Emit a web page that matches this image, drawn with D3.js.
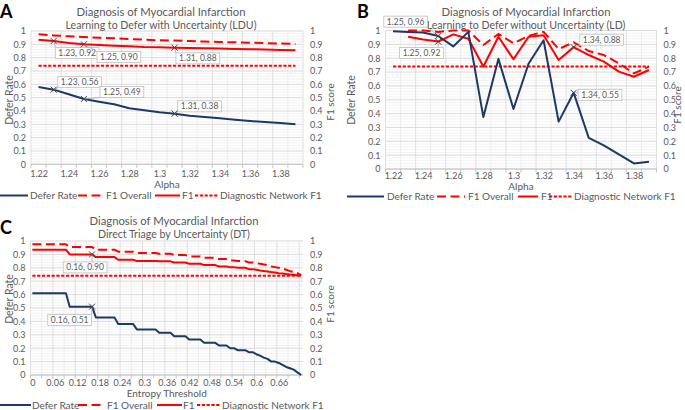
<!DOCTYPE html>
<html><head><meta charset="utf-8">
<script src="https://cdn.jsdelivr.net/npm/d3@7"></script>
<style>
body{margin:0;background:#fff}
svg{display:block}
text{font-family:Lato,"Liberation Sans",sans-serif}
</style>
</head><body>
<svg id="chart" width="685" height="410"></svg>
<script>
// ---------------- DATA ----------------
const alphaCategories = [1.22,1.23,1.24,1.25,1.26,1.27,1.28,1.29,1.30,1.31,1.32,1.33,1.34,1.35,1.36,1.37,1.38,1.39];
const alphaTickLabels = ["1.22","1.24","1.26","1.28","1.3","1.32","1.34","1.36","1.38"];

const lduDeferRate = [0.58,0.56,0.525,0.49,0.47,0.45,0.42,0.405,0.39,0.38,0.365,0.355,0.345,0.335,0.325,0.317,0.31,0.30];
const lduF1Overall = [0.975,0.967,0.96,0.955,0.95,0.945,0.94,0.935,0.93,0.928,0.925,0.921,0.918,0.915,0.912,0.909,0.906,0.903];
const lduF1        = [0.935,0.925,0.91,0.90,0.895,0.89,0.885,0.88,0.878,0.875,0.872,0.87,0.868,0.865,0.863,0.861,0.858,0.856];

const ldDeferRate  = [0.995,0.99,0.985,0.96,0.885,0.99,0.375,0.795,0.433,0.76,0.93,0.342,0.55,0.225,0.17,0.105,0.04,0.053];
const ldF1Overall  = [null,1.0,1.0,0.99,1.0,1.0,0.895,0.975,0.908,0.962,0.99,0.866,0.915,0.852,0.823,0.763,0.69,0.739];
const ldF1         = [null,0.955,0.935,0.92,0.972,0.94,0.74,0.955,0.792,0.955,0.965,0.787,0.88,0.823,0.775,0.703,0.666,0.715];

const diagnosticNetworkF1 = 0.74;

const entropyCategories = [0,0.01,0.02,0.03,0.04,0.05,0.06,0.07,0.08,0.09,0.10,0.11,0.12,0.13,0.14,0.15,0.16,0.17,0.18,0.19,
  0.20,0.21,0.22,0.23,0.24,0.25,0.26,0.27,0.28,0.29,0.30,0.31,0.32,0.33,0.34,0.35,0.36,0.37,0.38,0.39,
  0.40,0.41,0.42,0.43,0.44,0.45,0.46,0.47,0.48,0.49,0.50,0.51,0.52,0.53,0.54,0.55,0.56,0.57,0.58,0.59,
  0.60,0.61,0.62,0.63,0.64,0.65,0.66,0.67,0.68,0.69,0.70,0.71,0.72];
const entropyTickLabels = ["0","0.06","0.12","0.18","0.24","0.3","0.36","0.42","0.48","0.54","0.6","0.66"];

const dtDeferRate = [0.61,0.61,0.61,0.61,0.61,0.61,0.61,0.61,0.61,0.61,
  0.51,0.51,0.51,0.51,0.51,0.51,0.51,
  0.43,0.43,0.43,0.43,0.43,0.43,
  0.38,0.38,0.38,0.38,0.38,
  0.34,0.34,0.34,0.34,0.34,0.34,
  0.315,0.315,0.315,0.315,
  0.29,0.29,0.29,0.29,
  0.265,0.265,0.265,0.265,
  0.24,0.24,0.24,0.24,
  0.22,0.22,0.22,
  0.20,0.20,
  0.185,0.185,0.185,
  0.17,0.17,
  0.155,0.145,0.13,0.12,0.10,0.10,0.09,0.075,0.06,0.05,0.04,0.02,0.0];
const dtF1Overall = [0.975,0.975,0.975,0.975,0.975,0.975,0.975,0.975,0.975,0.975,
  0.955,0.955,0.955,0.955,0.955,0.955,0.955,
  0.935,0.935,0.935,0.935,0.935,0.935,
  0.92,0.92,0.92,0.92,0.92,
  0.91,0.91,0.91,0.91,0.91,0.91,
  0.905,0.905,0.905,0.905,
  0.895,0.895,0.895,0.895,
  0.885,0.885,0.885,0.885,
  0.875,0.875,0.875,0.875,
  0.865,0.865,0.865,
  0.855,0.855,
  0.85,0.85,0.85,
  0.84,0.84,
  0.835,0.83,0.825,0.82,0.81,0.805,0.80,0.795,0.785,0.775,0.77,0.76,0.745];
const dtF1 = [0.935,0.935,0.935,0.935,0.935,0.935,0.935,0.935,0.935,0.935,
  0.90,0.90,0.90,0.90,0.90,0.90,0.90,
  0.88,0.88,0.88,0.88,0.88,0.88,
  0.86,0.86,0.86,0.86,0.86,
  0.85,0.85,0.85,0.85,0.85,0.85,
  0.848,0.848,0.848,0.848,
  0.84,0.84,0.84,0.84,
  0.83,0.83,0.83,0.83,
  0.82,0.82,0.82,0.82,
  0.81,0.81,0.81,
  0.805,0.805,
  0.80,0.80,0.80,
  0.79,0.79,
  0.785,0.78,0.776,0.772,0.768,0.765,0.76,0.757,0.753,0.75,0.748,0.745,0.74];

const yTickValues = [0,0.1,0.2,0.3,0.4,0.5,0.6,0.7,0.8,0.9,1];
const legendLabels = ["Defer Rate","F1 Overall","F1","Diagnostic Network F1"];

const lduAnnotations = [
  {series:"f1", x:1.23, label:"1.23, 0.92"},
  {series:"f1", x:1.25, label:"1.25, 0.90"},
  {series:"f1", x:1.31, label:"1.31, 0.88"},
  {series:"defer", x:1.23, label:"1.23, 0.56"},
  {series:"defer", x:1.25, label:"1.25, 0.49"},
  {series:"defer", x:1.31, label:"1.31, 0.38"}];
const ldAnnotations = [
  {series:"defer", x:1.25, label:"1.25, 0.96"},
  {series:"f1", x:1.25, label:"1.25, 0.92"},
  {series:"f1", x:1.34, label:"1.34, 0.88"},
  {series:"defer", x:1.34, label:"1.34, 0.55"}];
const dtAnnotations = [
  {series:"f1", x:0.16, label:"0.16, 0.90"},
  {series:"defer", x:0.16, label:"0.16, 0.51"}];

// ---------------- STYLE / LAYOUT ----------------
const NAVY = "#1f3864", RED = "#ff0000", GREY_TXT = "#595959";
const svg = d3.select("#chart");

const panels = [
  {letter:"A", lx:0, ly:18, title:["Diagnosis of Myocardial Infarction","Learning to Defer with Uncertainty (LDU)"],
   tx:161, ty:16, left:31, right:303, top:31, bottom:164.3, cats:alphaCategories, tickLabels:alphaTickLabels,
   tickEvery:2, gridEvery:1, gridMajor:2, xTitle:"Alpha", xTitleY:188, xLabelBase:177,
   leftTitle:[9,100], rightTitle:[331,102], legendY:195.5,
   legend:[[0,28,30],[78,103,106],[155,180,182],[195,218,220]],
   defer:lduDeferRate, f1o:lduF1Overall, f1:lduF1, ann:lduAnnotations,
   annOff:[[23.5,12],[35,12.7],[23.3,10.7],[26,-7.5],[38,-7],[25,-7.3]]},
  {letter:"B", lx:357, ly:18, title:["Diagnosis of Myocardial Infarction","Learning to Defer without Uncertainty (LD)"],
   tx:526, ty:16, left:385.5, right:656.5, top:30.5, bottom:169, cats:alphaCategories, tickLabels:alphaTickLabels,
   tickEvery:2, gridEvery:1, gridMajor:2, xTitle:"Alpha", xTitleY:190, xLabelBase:179,
   leftTitle:[351,100], rightTitle:[678,105], legendY:196.5,
   legend:[[347,384,387],[437,465,468],[518,538,541],[549,572,574]],
   defer:ldDeferRate, f1o:ldF1Overall, f1:ldF1, ann:ldAnnotations,
   annOff:[[-32.5,-14.4],[-16.7,11.5],[28,-7.4],[26.3,2]]},
  {letter:"C", lx:0, ly:234, title:["Diagnosis of Myocardial Infarction","Direct Triage by Uncertainty (DT)"],
   tx:174, ty:225, left:30.5, right:303, top:241, bottom:375, cats:entropyCategories, tickLabels:entropyTickLabels,
   tickEvery:6, gridEvery:3, gridMajor:6, xTitle:"Entropy Threshold", xTitleY:397, xLabelBase:386.3,
   leftTitle:[9,299], rightTitle:[331,304], legendY:405,
   legend:[[0,31,32],[78,105,107],[157,182,183],[197,220,222]],
   defer:dtDeferRate, f1o:dtF1Overall, f1:dtF1, ann:dtAnnotations,
   annOff:[[-7,13],[-22.4,13.3]]}
];

function drawPanel(p){
  const g = svg.append("g");
  const x = d3.scalePoint().domain(p.cats).range([p.left, p.right]).padding(0.5);
  const step = x.step();
  const y = d3.scaleLinear().domain([0,1]).range([p.bottom, p.top]);

  // minor horizontal gridlines (every 0.02)
  const minorY = d3.range(0, 51).map(i => i/50);
  g.append("g").selectAll("line").data(minorY).join("line")
    .attr("x1", p.left).attr("x2", p.right)
    .attr("y1", d => y(d)).attr("y2", d => y(d))
    .attr("stroke", "#f0f0f0").attr("stroke-width", 0.8);
  // vertical gridlines at category boundaries
  const nb = p.cats.length;
  const bounds = d3.range(0, nb + 1).filter(i => i % p.gridEvery === 0);
  g.append("g").selectAll("line").data(bounds).join("line")
    .attr("x1", i => p.left + i*step).attr("x2", i => p.left + i*step)
    .attr("y1", p.top).attr("y2", p.bottom)
    .attr("stroke", i => (i % p.gridMajor === 0 ? "#dcdcdc" : "#ececec")).attr("stroke-width", 0.9);
  // major horizontal gridlines
  g.append("g").selectAll("line").data(yTickValues).join("line")
    .attr("x1", p.left).attr("x2", p.right)
    .attr("y1", d => y(d)).attr("y2", d => y(d))
    .attr("stroke", "#d9d9d9").attr("stroke-width", 0.9);
  // x tick marks
  g.append("g").selectAll("line").data(bounds).join("line")
    .attr("x1", i => p.left + i*step).attr("x2", i => p.left + i*step)
    .attr("y1", p.bottom).attr("y2", p.bottom + 3.5)
    .attr("stroke", "#bfbfbf").attr("stroke-width", 0.9);
  g.append("line").attr("x1", p.left).attr("x2", p.right).attr("y1", p.bottom).attr("y2", p.bottom)
    .attr("stroke", "#bfbfbf").attr("stroke-width", 0.9);

  // Axes (labels only)
  const tickCats = p.cats.filter((c,i) => i % p.tickEvery === 0);
  const xAxis = d3.axisBottom(x).tickValues(tickCats).tickSize(0).tickPadding(0)
    .tickFormat((d) => p.tickLabels[tickCats.indexOf(d)]);
  const gx = g.append("g").attr("transform", `translate(0,${p.xLabelBase - 6.4})`).call(xAxis);
  gx.select(".domain").remove();
  gx.selectAll("text").attr("font-size", 9).attr("fill", GREY_TXT).attr("font-family", "Lato");

  const fmt = d => String(d);
  const yl = d3.axisLeft(y).tickValues(yTickValues).tickSize(0).tickPadding(0).tickFormat(fmt);
  const gyl = g.append("g").attr("transform", `translate(${p.left - 5},0)`).call(yl);
  gyl.select(".domain").remove();
  gyl.selectAll("text").attr("font-size", 9).attr("fill", GREY_TXT).attr("font-family", "Lato");
  const yr = d3.axisRight(y).tickValues(yTickValues).tickSize(0).tickPadding(0).tickFormat(fmt);
  const gyr = g.append("g").attr("transform", `translate(${p.right + 7},0)`).call(yr);
  gyr.select(".domain").remove();
  gyr.selectAll("text").attr("font-size", 9).attr("fill", GREY_TXT).attr("font-family", "Lato");

  // titles
  g.append("text").attr("x", p.tx).attr("y", p.ty).attr("text-anchor", "middle")
    .attr("font-size", 11.3).attr("fill", GREY_TXT).text(p.title[0]);
  g.append("text").attr("x", p.tx).attr("y", p.ty + 13).attr("text-anchor", "middle")
    .attr("font-size", 10.6).attr("fill", GREY_TXT).text(p.title[1]);
  g.append("text").attr("x", p.lx).attr("y", p.ly).attr("font-size", 18).attr("font-weight", "bold")
    .attr("font-family", "Liberation Sans").attr("fill", "#000").text(p.letter);
  g.append("text").attr("x", (p.left + p.right)/2).attr("y", p.xTitleY).attr("text-anchor", "middle")
    .attr("font-size", 10).attr("fill", GREY_TXT).text(p.xTitle);
  g.append("text").attr("transform", `translate(${p.leftTitle[0]},${p.leftTitle[1]}) rotate(-90)`)
    .attr("text-anchor", "middle").attr("dy", "0.35em").attr("font-size", 10.5).attr("fill", GREY_TXT).text("Defer Rate");
  g.append("text").attr("transform", `translate(${p.rightTitle[0]},${p.rightTitle[1]}) rotate(-90)`)
    .attr("text-anchor", "middle").attr("dy", "0.3em").attr("font-size", 10).attr("fill", GREY_TXT).text("F1 score");

  // lines
  const line = d3.line().defined(d => d != null).x((d,i) => x(p.cats[i])).y(d => y(d));
  const diag = p.cats.map(() => diagnosticNetworkF1);
  const series = [
    {vals: diag, color: RED, dash: "3.2,1.6"},
    {vals: p.f1o, color: RED, dash: "9,4.5"},
    {vals: p.f1, color: RED, dash: null},
    {vals: p.defer, color: NAVY, dash: null}];
  series.forEach(s => {
    g.append("path").datum(s.vals).attr("d", line).attr("fill", "none")
      .attr("stroke", s.color).attr("stroke-width", 2).attr("stroke-dasharray", s.dash)
      .attr("stroke-linejoin", "round");
  });

  // annotations
  p.ann.forEach((a, k) => {
    const idx = p.cats.findIndex(c => Math.abs(c - a.x) < 1e-9);
    const v = a.series === "defer" ? p.defer[idx] : p.f1[idx];
    const mx = x(p.cats[idx]), my = y(v);
    const [dx, dy] = p.annOff[k];
    const cx = mx + dx, cy = my + dy;
    const t = g.append("text").attr("x", cx).attr("y", cy).attr("text-anchor", "middle")
      .attr("dy", "0.35em").attr("font-size", 8.5).attr("fill", GREY_TXT).text(a.label);
    const bb = t.node().getBBox();
    const bw = bb.width + 6, bh = 11;
    const bx = cx - bw/2, by = cy - bh/2;
    const px = Math.max(bx, Math.min(mx, bx + bw)), py = Math.max(by, Math.min(my, by + bh));
    g.insert("line", () => t.node()).attr("x1", mx).attr("y1", my).attr("x2", px).attr("y2", py)
      .attr("stroke", "#a6a6a6").attr("stroke-width", 0.8);
    g.insert("rect", () => t.node()).attr("x", bx).attr("y", by).attr("width", bw).attr("height", bh)
      .attr("fill", "#fff").attr("stroke", "#bfbfbf").attr("stroke-width", 0.8);
    const r = 3;
    g.append("path").attr("d", `M${mx-r},${my-r}L${mx+r},${my+r}M${mx-r},${my+r}L${mx+r},${my-r}`)
      .attr("stroke", "#404040").attr("stroke-width", 1);
  });

  // legend
  const ly = p.legendY;
  const styles = [{color:NAVY, dash:null},{color:RED, dash:"9,4.5"},{color:RED, dash:null},{color:RED, dash:"3.2,1.6"}];
  p.legend.forEach((it, i) => {
    g.append("line").attr("x1", it[0]).attr("x2", it[1]).attr("y1", ly).attr("y2", ly)
      .attr("stroke", styles[i].color).attr("stroke-width", 2).attr("stroke-dasharray", styles[i].dash);
    g.append("text").attr("x", it[2]).attr("y", ly).attr("dy", "0.35em")
      .attr("font-size", 10).attr("fill", GREY_TXT).text(legendLabels[i]);
  });
}

panels.forEach(drawPanel);
</script>
</body></html>
